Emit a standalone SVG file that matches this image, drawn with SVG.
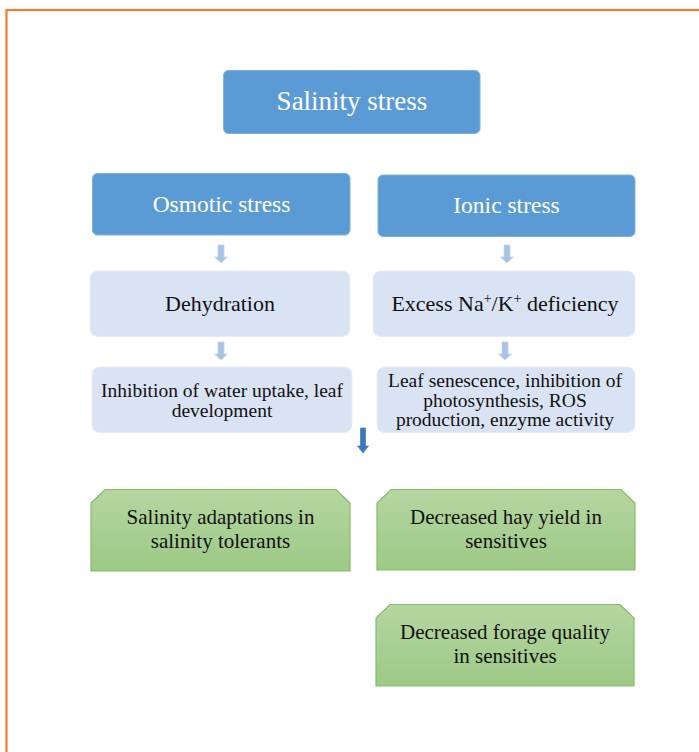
<svg xmlns="http://www.w3.org/2000/svg" width="699" height="752" viewBox="0 0 699 752">
<defs>
<style>
.frame{fill:none;stroke:#ed7d31;stroke-width:2.2}
.dark{fill:#5b9bd5;stroke:#7eb1df;stroke-width:1}
.light{fill:#dae3f3;stroke:#e6ecf7;stroke-width:1}
.green{fill:url(#g);stroke:#86bb68;stroke-width:1.2}
.w{fill:#ffffff}
.k{fill:#111111}
.t1{font-size:27px}
.t2{font-size:23.5px}
.t3{font-size:22px}
.t4{font-size:19.5px}
.t5{font-size:21px}
.la{fill:#a9c3e7;stroke:#c3d5ee;stroke-width:0.8}
.da{fill:#3a78b8;stroke:#4f86c0;stroke-width:0.8}
</style>
<linearGradient id="g" x1="0" y1="0" x2="0" y2="1">
<stop offset="0" stop-color="#b5d6a2"/>
<stop offset="1" stop-color="#9dc985"/>
</linearGradient>
</defs>
<rect x="0" y="0" width="699" height="752" fill="#ffffff"/>
<rect class="frame" x="6.5" y="10" width="720" height="800"/>

<g id="connectors">
<path class="la" d="M218,245 h6 v12 h3.5 l-6.5,6 l-6.5,-6 h3.5 z"/>
<path class="la" d="M504,245 h6 v12 h3.5 l-6.5,6 l-6.5,-6 h3.5 z"/>
<path class="la" d="M218,342 h6 v12 h3.5 l-6.5,6 l-6.5,-6 h3.5 z"/>
<path class="la" d="M502,342 h6 v12 h3.5 l-6.5,6 l-6.5,-6 h3.5 z"/>
<path class="da" d="M360.5,428 h5 v18 h3 l-5.5,7 l-5.5,-7 h3 z"/>
</g>

<g font-family="'Liberation Serif', 'DejaVu Serif', serif" text-anchor="middle">
<g id="salinity-stress">
<rect class="dark" x="223.5" y="70.5" width="256.5" height="63" rx="5"/>
<text class="w t1" x="352" y="110">Salinity stress</text>
</g>
<g id="osmotic-stress">
<rect class="dark" x="92.5" y="173.5" width="257.5" height="61.5" rx="5"/>
<text class="w t2" x="221.5" y="211.5">Osmotic stress</text>
</g>
<g id="ionic-stress">
<rect class="dark" x="378" y="175" width="257" height="61.5" rx="5"/>
<text class="w t2" x="506.5" y="212.5">Ionic stress</text>
</g>

<g id="dehydration">
<rect class="light" x="90" y="271" width="260" height="65.5" rx="8"/>
<text class="k t3" x="220" y="311">Dehydration</text>
</g>
<g id="excess-na">
<rect class="light" x="373" y="271" width="262" height="65.5" rx="8"/>
<text class="k t3" x="505" y="311">Excess Na<tspan font-size="14" dy="-8">+</tspan><tspan dy="8">/K</tspan><tspan font-size="14" dy="-8">+</tspan><tspan dy="8"> deficiency</tspan></text>
</g>

<g id="inhibition">
<rect class="light" x="92" y="367" width="260" height="65.5" rx="8"/>
<text class="k t4" x="222" y="396.5">Inhibition of water uptake, leaf</text>
<text class="k t4" x="222" y="416.5">development</text>
</g>
<g id="leaf-senescence">
<rect class="light" x="377" y="367" width="258" height="65.5" rx="8"/>
<text class="k t4" x="505" y="386.5">Leaf senescence, inhibition of</text>
<text class="k t4" x="505" y="406.5">photosynthesis, ROS</text>
<text class="k t4" x="505" y="426">production, enzyme activity</text>
</g>

<g id="salinity-adaptations">
<path class="green" d="M91,571 V503 L105,489.5 H336 L350,503 V571 Z"/>
<text class="k t5" x="220.5" y="524">Salinity adaptations in</text>
<text class="k t5" x="220.5" y="548">salinity tolerants</text>
</g>
<g id="hay-yield">
<path class="green" d="M377,570 V503 L391,489.5 H621 L635,503 V570 Z"/>
<text class="k t5" x="506" y="524">Decreased hay yield in</text>
<text class="k t5" x="506" y="548">sensitives</text>
</g>
<g id="forage-quality">
<path class="green" d="M376,686 V618 L390,604.5 H620 L634,618 V686 Z"/>
<text class="k t5" x="505" y="638.5">Decreased forage quality</text>
<text class="k t5" x="505" y="663">in sensitives</text>
</g>
</g>
</svg>
